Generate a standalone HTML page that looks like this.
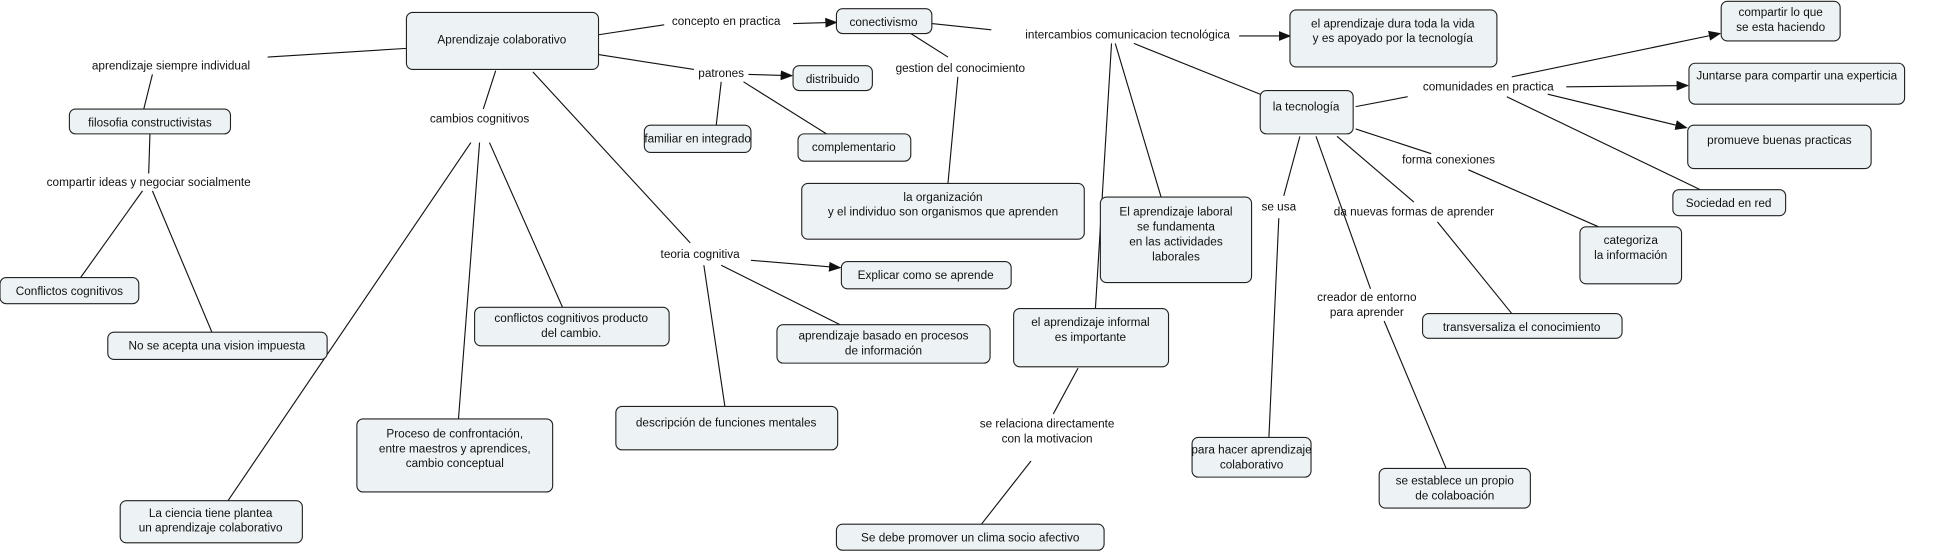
<!DOCTYPE html>
<html><head><meta charset="utf-8"><style>
html,body{margin:0;padding:0;background:#fff;}
svg{display:block;}
text{font-family:"Liberation Sans",sans-serif;font-size:9.5px;fill:#111;text-anchor:middle;}
rect{fill:#edf3f5;stroke:#222;stroke-width:0.9;}
line{stroke:#111;stroke-width:0.9;}
</style></head><body>
<svg width="1943" height="554" viewBox="0 0 1568 447" xmlns="http://www.w3.org/2000/svg">
<defs><marker id="a" markerWidth="10" markerHeight="8" refX="9" refY="4" orient="auto" markerUnits="userSpaceOnUse"><path d="M0,0 L10,4 L0,8z" fill="#111"/></marker></defs>
<g>
<line x1="483" y1="28" x2="536" y2="20"/><line x1="640" y1="19" x2="675" y2="18" marker-end="url(#a)"/>
<line x1="483" y1="44" x2="560" y2="56"/><line x1="604" y1="60" x2="639" y2="61" marker-end="url(#a)"/>
<line x1="582" y1="66" x2="578" y2="101"/><line x1="600" y1="66" x2="667" y2="108"/>
<line x1="752" y1="19" x2="800" y2="24"/><line x1="1000" y1="29" x2="1041" y2="29" marker-end="url(#a)"/>
<line x1="735" y1="27" x2="765" y2="46"/><line x1="773" y1="62" x2="765" y2="148"/>
<line x1="900" y1="35" x2="937" y2="159"/><line x1="897" y1="35" x2="884" y2="249"/><line x1="915" y1="35" x2="1017" y2="76"/>
<line x1="328" y1="39" x2="216" y2="46"/><line x1="123" y1="60" x2="116" y2="88"/>
<line x1="121" y1="108" x2="120" y2="140"/><line x1="115" y1="154" x2="65" y2="224"/><line x1="123" y1="154" x2="171" y2="268"/>
<line x1="400" y1="57" x2="390" y2="88"/><line x1="380" y1="115" x2="184" y2="404"/><line x1="387" y1="115" x2="370" y2="338"/><line x1="395" y1="115" x2="454" y2="248"/>
<line x1="430" y1="58" x2="557" y2="196"/><line x1="606" y1="210" x2="678" y2="216" marker-end="url(#a)"/><line x1="582" y1="214" x2="678" y2="262"/><line x1="568" y1="214" x2="585" y2="328"/>
<line x1="870" y1="297" x2="850" y2="334"/><line x1="832" y1="372" x2="792" y2="423"/>
<line x1="1094" y1="86" x2="1136" y2="78"/><line x1="1220" y1="62" x2="1388" y2="27" marker-end="url(#a)"/><line x1="1264" y1="70" x2="1362" y2="69" marker-end="url(#a)"/><line x1="1249" y1="76" x2="1361" y2="103" marker-end="url(#a)"/><line x1="1216" y1="78" x2="1372" y2="153"/>
<line x1="1094" y1="104" x2="1155" y2="124"/><line x1="1185" y1="137" x2="1290" y2="183"/>
<line x1="1079" y1="110" x2="1141" y2="163"/><line x1="1160" y1="179" x2="1220" y2="253"/>
<line x1="1049" y1="110" x2="1036" y2="158"/><line x1="1032" y1="176" x2="1024" y2="353"/>
<line x1="1062" y1="110" x2="1106" y2="233"/><line x1="1117" y1="259" x2="1167" y2="378"/>
</g>
<g>
<rect x="328" y="10" width="155" height="46" rx="5"/><text x="405" y="35">Aprendizaje colaborativo</text>
<rect x="675" y="7" width="77" height="20" rx="5"/><text x="713" y="21">conectivismo</text>
<rect x="640" y="53" width="64" height="20" rx="5"/><text x="672" y="67">distribuido</text>
<rect x="520" y="101" width="86" height="22" rx="5"/><text x="563" y="115">familiar en integrado</text>
<rect x="644" y="108" width="91" height="22" rx="5"/><text x="689" y="122">complementario</text>
<rect x="647" y="148" width="228" height="45" rx="5"/><text x="761" y="162">la organización</text><text x="761" y="174">y el individuo son organismos que aprenden</text>
<rect x="679" y="211" width="137" height="22" rx="5"/><text x="747" y="225">Explicar como se aprende</text>
<rect x="627" y="262" width="172" height="31" rx="5"/><text x="713" y="274">aprendizaje basado en procesos</text><text x="713" y="286">de información</text>
<rect x="497" y="328" width="179" height="35" rx="5"/><text x="586" y="344">descripción de funciones mentales</text>
<rect x="383" y="248" width="157" height="31" rx="5"/><text x="461" y="260">conflictos cognitivos producto</text><text x="461" y="272">del cambio.</text>
<rect x="288" y="338" width="158" height="59" rx="5"/><text x="367" y="353">Proceso de confrontación,</text><text x="367" y="365">entre maestros y aprendices,</text><text x="367" y="377">cambio conceptual</text>
<rect x="97" y="404" width="147" height="34" rx="5"/><text x="170" y="417">La ciencia tiene plantea</text><text x="170" y="429">un aprendizaje colaborativo</text>
<rect x="56" y="88" width="130" height="20" rx="5"/><text x="121" y="102">filosofia constructivistas</text>
<rect x="0" y="224" width="112" height="21" rx="5"/><text x="56" y="238">Conflictos cognitivos</text>
<rect x="87" y="268" width="177" height="22" rx="5"/><text x="175" y="282">No se acepta una vision impuesta</text>
<rect x="1041" y="8" width="167" height="46" rx="5"/><text x="1124" y="22">el aprendizaje dura toda la vida</text><text x="1124" y="34">y es apoyado por la tecnología</text>
<rect x="888" y="159" width="122" height="69" rx="5"/><text x="949" y="174">El aprendizaje laboral</text><text x="949" y="186">se fundamenta</text><text x="949" y="198">en las actividades</text><text x="949" y="210">laborales</text>
<rect x="818" y="249" width="125" height="47" rx="5"/><text x="880" y="263">el aprendizaje informal</text><text x="880" y="275">es  importante</text>
<rect x="675" y="423" width="216" height="21" rx="5"/><text x="783" y="437">Se debe promover un clima socio afectivo</text>
<rect x="962" y="353" width="96" height="32" rx="5"/><text x="1010" y="366">para hacer aprendizaje</text><text x="1010" y="378">colaborativo</text>
<rect x="1113" y="378" width="122" height="32" rx="5"/><text x="1174" y="391">se establece un propio</text><text x="1174" y="403">de colaboación</text>
<rect x="1148" y="253" width="161" height="20" rx="5"/><text x="1228" y="267">transversaliza el conocimiento</text>
<rect x="1275" y="183" width="82" height="46" rx="5"/><text x="1316" y="197">categoriza</text><text x="1316" y="209">la información</text>
<rect x="1017" y="73" width="75" height="35" rx="5"/><text x="1054" y="89">la tecnología</text>
<rect x="1389" y="1" width="96" height="32" rx="5"/><text x="1437" y="13">compartir lo que</text><text x="1437" y="25">se esta haciendo</text>
<rect x="1363" y="51" width="174" height="33" rx="5"/><text x="1450" y="64">Juntarse para compartir una experticia</text>
<rect x="1362" y="101" width="148" height="35" rx="5"/><text x="1436" y="116">promueve buenas practicas</text>
<rect x="1350" y="153" width="91" height="21" rx="5"/><text x="1395" y="167">Sociedad en red</text>
</g>
<g>
<text x="586" y="20">concepto en practica</text>
<text x="582" y="62">patrones</text>
<text x="775" y="58">gestion del conocimiento</text>
<text x="910" y="31">intercambios comunicacion tecnológica</text>
<text x="138" y="56">aprendizaje siempre individual</text>
<text x="387" y="99">cambios cognitivos</text>
<text x="120" y="150">compartir ideas y negociar socialmente</text>
<text x="565" y="208">teoria cognitiva</text>
<text x="845" y="345">se relaciona directamente</text><text x="845" y="357">con la motivacion</text>
<text x="1201" y="73">comunidades en practica</text>
<text x="1169" y="132">forma conexiones</text>
<text x="1032" y="170">se usa</text>
<text x="1141" y="174">da nuevas formas de aprender</text>
<text x="1103" y="243">creador de entorno</text><text x="1103" y="255">para aprender</text>
</g>
</svg>
</body></html>
